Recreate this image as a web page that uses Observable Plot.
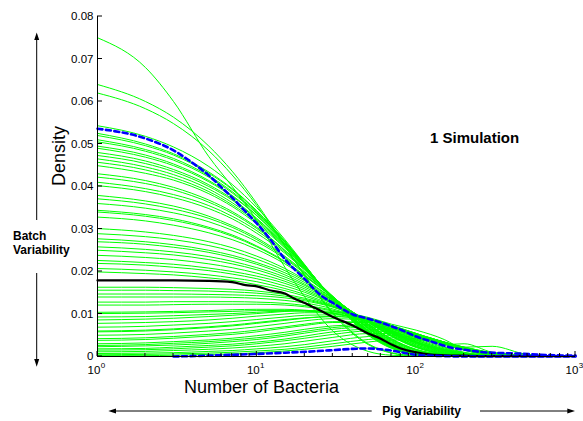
<!DOCTYPE html>
<html><head><meta charset="utf-8">
<script src="https://cdn.jsdelivr.net/npm/d3@7"></script>
<script src="https://cdn.jsdelivr.net/npm/@observablehq/plot@0.6"></script>
<style>
html,body{margin:0;padding:0;background:#fff;}
#chart svg{display:block;}
</style></head><body><div id="chart"></div>
<script>
// ---- data (densities of the green runs are stored per 10,000) ----
const xGrid = [1,2,3,5,7,10,15,20,30,50,70,100,150,200,300,500,1000];
const greenPer10k = [
[750,680,600,470,400,320,210,140,60,12,3,1,0,0,0,0,0],
[640,600,563,495,436,360,261,190,100,28,8,1,0,0,0,0,0],
[620,583,548,484,427,355,260,191,103,30,9,2,0,0,0,0,0],
[543,518,493,447,405,350,275,216,132,50,19,4,0,0,0,0,0],
[525,500,477,434,395,343,272,215,134,52,20,5,0,0,0,0,0],
[520,496,474,431,393,341,270,214,134,53,21,5,0,0,0,0,0],
[510,487,466,425,388,338,269,214,136,55,22,5,1,0,0,0,0],
[505,483,462,422,385,336,268,213,136,55,22,6,1,0,0,0,0],
[495,474,453,414,379,332,265,213,137,57,23,6,1,0,0,0,0],
[490,469,449,411,377,331,265,213,137,57,24,6,1,0,0,0,0],
[480,460,440,404,371,325,262,211,137,58,24,7,1,0,0,0,0],
[473,454,435,400,368,323,261,211,138,59,25,7,1,0,0,0,0],
[465,446,428,394,362,320,259,210,138,60,26,7,1,0,0,0,0],
[457,439,421,388,357,316,257,209,138,61,27,8,1,0,0,0,0],
[449,431,415,383,353,312,255,208,139,62,28,8,1,0,0,0,0],
[430,414,398,368,341,304,250,206,140,65,30,9,1,0,0,0,0],
[422,407,392,363,337,301,249,206,141,66,31,10,1,0,0,0,0],
[410,395,381,355,330,296,246,205,141,67,32,10,2,0,0,0,0],
[402,388,374,348,324,290,243,203,141,68,33,11,2,0,0,0,0],
[379,366,354,330,308,279,236,199,141,70,35,12,2,0,0,0,0],
[371,359,347,325,304,275,233,197,141,72,37,14,3,0,0,0,0],
[360,349,338,317,297,270,230,195,141,73,38,15,3,1,0,0,0],
[344,334,324,304,286,260,224,191,140,75,40,16,4,1,0,0,0],
[340,330,320,301,283,258,222,190,140,76,41,16,4,1,0,0,0],
[328,319,309,291,275,252,218,188,139,77,42,17,4,1,0,0,0],
[301,293,285,270,256,236,207,181,137,80,47,21,5,1,0,0,0],
[289,282,275,261,248,229,202,178,136,81,48,22,6,2,0,0,0],
[277,270,263,250,238,221,197,174,134,82,49,23,6,2,0,0,0],
[270,264,257,245,233,217,192,170,133,82,50,24,7,2,0,0,0],
[258,252,246,235,224,209,187,167,132,82,51,25,8,2,0,0,0],
[250,244,239,228,218,204,182,163,130,83,53,27,9,3,0,0,0],
[238,233,228,218,209,196,177,159,128,84,54,28,10,3,0,0,0],
[226,221,217,208,200,189,172,155,126,84,55,30,11,4,1,0,0],
[219,215,210,202,194,183,166,151,124,83,56,31,11,4,1,0,0],
[207,203,199,192,185,176,160,146,121,83,57,33,13,5,1,0,0],
[199,195,192,185,179,169,155,142,119,83,58,34,14,6,1,0,0],
[163,163,162,160,158,154,146,137,118,82,56,32,13,5,1,0,0],
[156,156,155,154,152,149,142,134,117,83,58,34,14,6,1,0,0],
[147,147,147,146,145,143,138,131,116,84,59,35,15,6,1,0,0],
[140,140,140,140,139,137,132,126,112,82,59,36,16,7,2,0,0],
[128,128,129,129,129,128,125,120,109,82,60,38,17,8,2,0,0],
[121,121,122,123,123,123,121,117,107,82,61,39,18,8,2,0,0],
[104,105,106,108,110,111,111,109,102,82,62,41,20,9,3,1,0],
[101,102,103,105,106,108,108,107,101,84,66,48,28,30,10,2,0],
[93,94,96,99,101,104,107,107,102,84,65,44,22,10,3,1,0],
[86,88,90,94,97,101,106,108,106,92,76,62,40,16,4,1,0],
[78,80,82,86,90,95,100,103,103,90,73,52,29,15,4,1,0],
[69,71,74,78,82,87,93,97,98,88,72,52,29,15,4,1,0],
[60,62,65,70,74,80,87,91,94,87,73,54,31,22,24,5,0],
[58,60,63,68,72,78,85,90,94,87,73,54,31,17,5,1,0],
[50,52,55,60,64,70,78,84,89,85,72,54,32,17,5,1,0],
[42,44,47,52,56,62,70,76,82,81,70,54,33,18,5,1,0],
[38,40,43,48,52,58,67,73,80,80,70,54,33,18,6,1,0],
[30,32,35,39,43,49,57,64,72,75,67,53,34,19,6,1,0],
[26,28,31,35,39,44,52,59,68,72,65,52,34,19,6,2,0],
[23,25,27,31,35,40,48,55,64,69,64,52,34,20,7,2,0],
[18,19,22,26,29,34,41,48,58,64,61,51,34,20,7,2,0],
[15,16,18,22,25,30,37,43,52,60,58,49,34,21,7,2,0],
[11,12,14,17,20,24,30,36,45,54,54,47,34,21,8,2,0],
[7,8,9,12,14,18,23,28,37,47,49,45,33,22,8,2,0],
[4,5,6,8,10,13,17,22,30,40,44,42,32,22,9,3,0],
[2,2,3,5,6,9,13,17,24,34,39,39,31,22,9,3,1]
];
const meanX = [1,3,5,7,8.5,10,12,15,17,20,25,30,40,50,60,70,80,100,120,150,200,300,500,1000];
const meanY = [.0179,.0179,.0178,.0175,.0168,.0165,.0156,.0148,.0137,.0126,.0108,.0093,.0073,.0054,.0042,.0028,.0019,.0010,.0005,.0003,.0002,.0001,.0001,.0001];
const upperX = [1,2,3,4,5,6,7,8,10,12,15,20,25,30,40,50,60,70,80,100,130,165,200,265,350,430,600,1000];
const upperY = [.0536,.0513,.0485,.0454,.0426,.0398,.0374,.0351,.0313,.0278,.0229,.0182,.0145,.0126,.0099,.0089,.0080,.0071,.0063,.0047,.0033,.0021,.0016,.0010,.0008,.0007,.0004,.0002];
const lowerX = [3,5,7,10,15,20,30,40,50,60,70,80,100,120,150,200,1000];
const lowerY = [0,.0002,.0004,.0006,.0009,.0011,.0015,.0018,.0019,.0017,.0014,.0010,.0004,.0002,.0001,0,0];
const yTicks = [0,0.01,0.02,0.03,0.04,0.05,0.06,0.07,0.08];
const yTickLabels = ["0","0.01","0.02","0.03","0.04","0.05","0.06","0.07","0.08"];
const xTicks = [1,10,100,1000];
const xTickExp = ["0","1","2","3"];
const xMinor = [2,3,4,5,6,7,8,9,20,30,40,50,60,70,80,90,200,300,400,500,600,700,800,900];

// ---- tables built from the arrays ----
const green = greenPer10k.flatMap((row,i)=>row.map((v,j)=>({id:i,x:xGrid[j],y:v/10000})));
const mean = meanX.map((x,i)=>({x,y:meanY[i]}));
const upper = upperX.map((x,i)=>({x,y:upperY[i]}));
const lower = lowerX.map((x,i)=>({x,y:lowerY[i]}));
const yT = yTicks.map((v,i)=>({v,label:yTickLabels[i]}));
const xT = xTicks.map((v,i)=>({v,e:xTickExp[i]}));

const FONT = "'Liberation Sans', Arial, Helvetica, sans-serif";
const plot = Plot.plot({
  width:583, height:421,
  marginLeft:97, marginRight:8, marginTop:16, marginBottom:65,
  style:{fontFamily:FONT, background:"#fff", overflow:"visible", color:"#000"},
  x:{type:"log", domain:[1,1000], axis:null},
  y:{domain:[0,0.08], axis:null},
  marks:[
    Plot.line(green,{x:"x",y:"y",z:"id",stroke:"#00ff00",strokeWidth:1,curve:"monotone-x"}),
    Plot.line(mean,{x:"x",y:"y",stroke:"#000",strokeWidth:2.2,curve:"monotone-x"}),
    Plot.line(upper,{x:"x",y:"y",stroke:"#0000ff",strokeWidth:2.6,strokeDasharray:"5,3.5",curve:"monotone-x"}),
    Plot.line(lower,{x:"x",y:"y",stroke:"#0000ff",strokeWidth:2.6,strokeDasharray:"5,3.5",curve:"monotone-x"}),
    Plot.ruleX(xTicks.slice(0,1),{y1:0,y2:0.08,stroke:"#000",strokeWidth:1}),
    Plot.ruleY(yTicks.slice(0,1),{x1:1,x2:1000,stroke:"#000",strokeWidth:1}),
    Plot.text(yT,{x:()=>1,y:"v",text:"label",dx:-4,textAnchor:"end",fontSize:11.5,fill:"#000"}),
    Plot.text(xT,{x:"v",y:()=>0,text:()=>"10",dx:-3.5,dy:14,fontSize:11.5,fill:"#000"}),
    Plot.text(xT,{x:"v",y:()=>0,text:"e",dx:5.5,dy:8.5,fontSize:8,fill:"#000"})
  ]
});
document.getElementById("chart").appendChild(plot);

// inward tick marks placed with the plot's own scales
const sx = plot.scale("x"), sy = plot.scale("y");
const svg = d3.select(plot);
const tg = svg.append("g").attr("stroke","#000").attr("stroke-width",1);
yTicks.forEach(v=>{const y=sy.apply(v); tg.append("line").attr("x1",sx.apply(1)).attr("x2",sx.apply(1)+5).attr("y1",y).attr("y2",y);});
xTicks.forEach(v=>{const x=sx.apply(v); tg.append("line").attr("x1",x).attr("x2",x).attr("y1",sy.apply(0)).attr("y2",sy.apply(0)-5);});
xMinor.forEach(v=>{const x=sx.apply(v); tg.append("line").attr("x1",x).attr("x2",x).attr("y1",sy.apply(0)).attr("y2",sy.apply(0)-3);});

// annotations
const ann = svg.append("g").attr("font-family",FONT).attr("fill","#000").attr("text-anchor","start");
ann.append("text").attr("x",65).attr("y",156).attr("transform","rotate(-90,65,156)").attr("text-anchor","middle").attr("font-size",18).text("Density");
ann.append("text").attr("x",261.5).attr("y",393).attr("text-anchor","middle").attr("font-size",18).text("Number of Bacteria");
ann.append("text").attr("x",430).attr("y",143).attr("text-anchor","start").attr("font-size",15).attr("font-weight","bold").text("1 Simulation");
ann.append("text").attr("x",13).attr("y",240).attr("text-anchor","start").attr("font-size",12).attr("font-weight","bold").text("Batch");
ann.append("text").attr("x",13).attr("y",254).attr("text-anchor","start").attr("font-size",12).attr("font-weight","bold").text("Variability");
ann.append("text").attr("x",421.7).attr("y",414.5).attr("text-anchor","middle").attr("font-size",12).attr("font-weight","bold").text("Pig Variability");
const ar = svg.append("g").attr("stroke","#000").attr("stroke-width",1);
ar.append("line").attr("x1",36.7).attr("x2",36.7).attr("y1",38).attr("y2",220);
ar.append("line").attr("x1",36.7).attr("x2",36.7).attr("y1",273).attr("y2",361);
ar.append("line").attr("x1",114).attr("x2",371.7).attr("y1",411).attr("y2",411);
ar.append("line").attr("x1",480).attr("x2",569).attr("y1",411).attr("y2",411);
const hd = svg.append("g").attr("fill","#000");
hd.append("path").attr("d","M36.7,32.5 L34.2,40 L39.2,40 Z");
hd.append("path").attr("d","M36.7,366.7 L34.2,359 L39.2,359 Z");
hd.append("path").attr("d","M108.3,411 L116,408.5 L116,413.5 Z");
hd.append("path").attr("d","M575,411 L567.3,408.5 L567.3,413.5 Z");
</script></body></html>
